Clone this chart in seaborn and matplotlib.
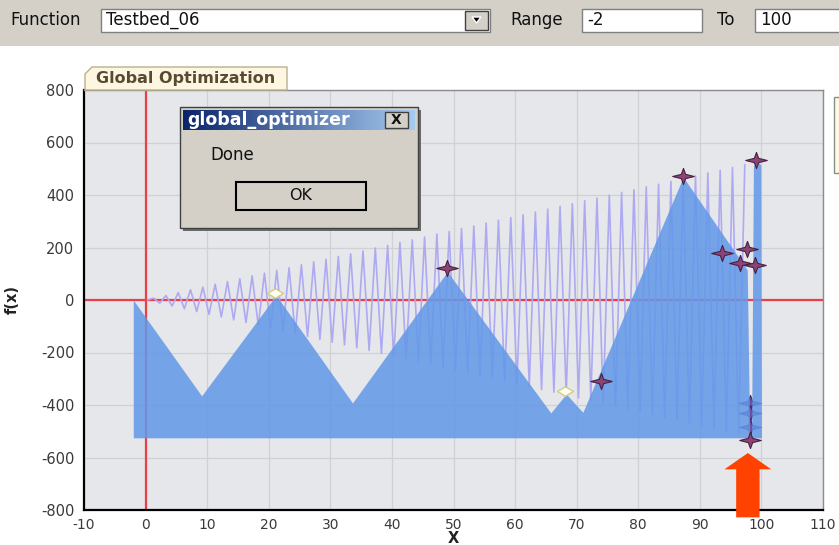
import numpy as np
import pandas as pd
import matplotlib
matplotlib.use("Agg")
import matplotlib.pyplot as plt
import seaborn as sns
from matplotlib.patches import Rectangle, Polygon
from matplotlib.colors import LinearSegmentedColormap

sns.set_theme(style="white")
plt.rcParams["font.family"] = ["DejaVu Sans"]
plt.rcParams["axes.unicode_minus"] = False

# Objective curve, sampled at its alternating crests and troughs
wave_x = [0.3, 1.3, 2.3, 3.3, 4.3, 5.3, 6.3, 7.3, 8.3, 9.3,
          10.3, 11.3, 12.3, 13.3, 14.3, 15.3, 16.3, 17.3, 18.3, 19.3,
          20.3, 21.3, 22.3, 23.3, 24.3, 25.3, 26.3, 27.3, 28.3, 29.3,
          30.3, 31.3, 32.3, 33.3, 34.3, 35.3, 36.3, 37.3, 38.3, 39.3,
          40.3, 41.3, 42.3, 43.3, 44.3, 45.3, 46.3, 47.3, 48.3, 49.3,
          50.3, 51.3, 52.3, 53.3, 54.3, 55.3, 56.3, 57.3, 58.3, 59.3,
          60.3, 61.3, 62.3, 63.3, 64.3, 65.3, 66.3, 67.3, 68.3, 69.3,
          70.3, 71.3, 72.3, 73.3, 74.3, 75.3, 76.3, 77.3, 78.3, 79.3,
          80.3, 81.3, 82.3, 83.3, 84.3, 85.3, 86.3, 87.3, 88.3, 89.3,
          90.3, 91.3, 92.3, 93.3, 94.3, 95.3, 96.3, 97.3]
wave_y = [0, 7, -12, 17, -23, 28, -33, 39, -44, 49,
          -55, 60, -65, 70, -76, 81, -86, 92, -97, 102,
          -108, 113, -118, 123, -129, 134, -139, 145, -150, 155,
          -161, 166, -171, 176, -182, 187, -192, 198, -203, 208,
          -214, 219, -224, 229, -235, 240, -245, 251, -256, 261,
          -267, 272, -277, 282, -288, 293, -298, 304, -309, 314,
          -320, 325, -330, 335, -341, 346, -351, 357, -362, 367,
          -373, 378, -383, 388, -394, 399, -404, 410, -415, 420,
          -426, 431, -436, 441, -447, 452, -457, 463, -468, 473,
          -479, 484, -489, 494, -500, 505, -510, 516]

# Upper boundary of the shaded envelope and its floor
region_x = [-2.0, 9.1, 21.2, 33.6, 49.0, 65.8, 68.3, 71.0, 87.3,
            97.7, 98.1, 98.4, 98.7, 99.2, 99.9, 100.0]
region_y = [0, -365, 18, -392, 108, -430, -358, -428, 468,
            115, -525, -525, 510, 530, 515, -525]
region_floor = -525

# Points visited by the optimizer
star_x = [48.9, 74.0, 87.3, 93.6, 96.5, 97.6, 98.9, 99.2, 98.2]
star_y = [121, -309, 472, 179, 141, 194, 133, 533, -533]
deep_x = [98.2, 98.2, 98.2]
deep_y = [-392, -430, -483]
# Accepted optima
best_x = [21.0, 68.1]
best_y = [27, -345]

x_ticks = [-10, 0, 10, 20, 30, 40, 50, 60, 70, 80, 90, 100, 110]
y_ticks = [-800, -600, -400, -200, 0, 200, 400, 600, 800]

W, H = 839, 545
fig = plt.figure(figsize=(W / 100, H / 100), dpi=100)
fig.patch.set_facecolor("white")


def px_box(l, t, r, b):
    return [l / W, 1 - b / H, (r - l) / W, (b - t) / H]


ax = fig.add_axes(px_box(84, 90, 823, 510))
ax.set_facecolor("#e6e7ea")
ax.grid(True, color="#d0d1d5", lw=0.9)
ax.set_axisbelow(True)

ax.axhline(0, color="#e8404a", lw=1.6, zorder=0.8)
ax.axvline(0, color="#e8404a", lw=1.6, zorder=0.8)

sns.lineplot(x=wave_x, y=wave_y, sort=False, estimator=None, ax=ax,
             color="#aeaaf2", lw=1.2, zorder=1)

star = [(0, 0.75), (0.2, 0.2), (1, 0), (0.2, -0.2), (0, -0.75),
        (-0.2, -0.2), (-1, 0), (-0.2, 0.2), (0, 0.75)]
flat_diamond = [(0, 0.6), (1, 0), (0, -0.6), (-1, 0), (0, 0.6)]

sns.scatterplot(x=deep_x, y=deep_y, ax=ax, marker=star, s=240,
                color="#6f4fa0", edgecolor="#3e2a60", linewidth=0.8,
                zorder=1.5)

ax.fill_between(region_x, region_y, region_floor, color="#6398e8",
                alpha=0.86, lw=0, zorder=2)

sns.scatterplot(x=star_x, y=star_y, ax=ax, marker=star, s=240,
                color="#8a4576", edgecolor="#4a2040", linewidth=0.8,
                zorder=4)
sns.scatterplot(x=best_x, y=best_y, ax=ax, marker=flat_diamond, s=130,
                color="#fffff2", edgecolor="#d4cc86", linewidth=1.0,
                zorder=4)

ax.set_xlim(-10, 110)
ax.set_ylim(-800, 800)
ax.set_xticks(x_ticks)
ax.set_yticks(y_ticks)
ax.tick_params(axis="both", which="major", direction="out", length=5,
               width=1.2, color="black", labelsize=10.5, labelcolor="#3a3a3a",
               pad=2)
ax.tick_params(axis="x", labelsize=10, pad=1)
for side in ("left", "bottom"):
    ax.spines[side].set_color("black")
    ax.spines[side].set_linewidth(1.6)
for side in ("top", "right"):
    ax.spines[side].set_color("#8c8c8c")
    ax.spines[side].set_linewidth(1.0)
ax.set_xlabel("X", fontsize=10.5, fontweight="bold", color="#222")
ax.xaxis.set_label_coords(0.5, -0.05)
ax.set_ylabel("f(x)", fontsize=10.5, fontweight="bold", color="#222")
ax.yaxis.set_label_coords(-0.087, 0.5)

# Marker arrow below the cluster of evaluations near x = 98
ax_arrow = [(97.8, -583), (101.6, -645), (99.7, -645), (99.7, -828),
            (95.9, -828), (95.9, -645), (94.0, -645)]
ax.add_patch(Polygon(ax_arrow, closed=True, fc="#ff4200", ec="none",
                     clip_on=False, zorder=10))

# ---- window chrome drawn in pixel space ----
ui = fig.add_axes([0, 0, 1, 1], zorder=5)
ui.set_xlim(0, W)
ui.set_ylim(H, 0)
ui.axis("off")
ui.patch.set_alpha(0)


def rect(l, t, r, b, fc, ec="none", lw=1.0, z=1):
    ui.add_patch(Rectangle((l, t), r - l, b - t, fc=fc, ec=ec, lw=lw, zorder=z))


def label(x, y, s, size=12, **kw):
    kw.setdefault("color", "#111")
    ui.text(x, y, s, fontsize=size, va="center", **kw)


# toolbar
rect(0, 0, W, 46, "#d4d0c8")
label(10, 20, "Function")
rect(101, 9, 490, 32, "white", "#808080")
label(106, 20, "Testbed_06")
rect(465, 11, 488, 30, "#d4d0c8", "#404040", z=2)
ui.add_patch(Polygon([(472, 17), (481, 17), (476.5, 23)], fc="black", zorder=3))
label(510, 20, "Range")
rect(582, 9, 702, 32, "white", "#808080")
label(587, 20, "-2")
label(717, 20, "To")
rect(755, 9, 850, 32, "white", "#808080")
label(760, 20, "100")

# tab header
ui.add_patch(Polygon([(85, 90), (85, 74), (92, 67), (287, 67), (287, 90)],
                     fc="#fdf7e2", ec="#b9b08c", lw=1.0, zorder=1))
label(186, 79, "Global Optimization", size=11.5, ha="center",
      fontweight="bold", color="#5b4a32")

# clipped legend frame at the right edge
rect(834, 97, 850, 173, "#fffbe0", "#8c8c8c")

# message box
rect(183, 110, 421, 231, "#6a6a6a", z=2)
rect(180, 107, 418, 228, "#d4d0c8", "#404040", lw=1.0, z=3)
grad = np.linspace(0, 1, 256)[None, :]
ui.imshow(grad, cmap=LinearSegmentedColormap.from_list("tb", ["#0a246a", "#a6caf0"]),
          extent=(183, 415, 130, 110), aspect="auto", zorder=4)
ui.set_xlim(0, W)
ui.set_ylim(H, 0)
label(187, 120, "global_optimizer", size=12.5, color="white",
      fontweight="bold", zorder=5)
rect(385, 112, 408, 128, "#d4d0c8", "#404040", z=5)
label(396.5, 120, "X", size=10, ha="center", fontweight="bold", zorder=6)
label(210, 155, "Done", size=12, zorder=5)
rect(236, 182, 366, 210, "#d4d0c8", "black", lw=1.5, z=5)
label(301, 196, "OK", size=11.5, ha="center", zorder=6)

fig.savefig("out.png", dpi=100)
